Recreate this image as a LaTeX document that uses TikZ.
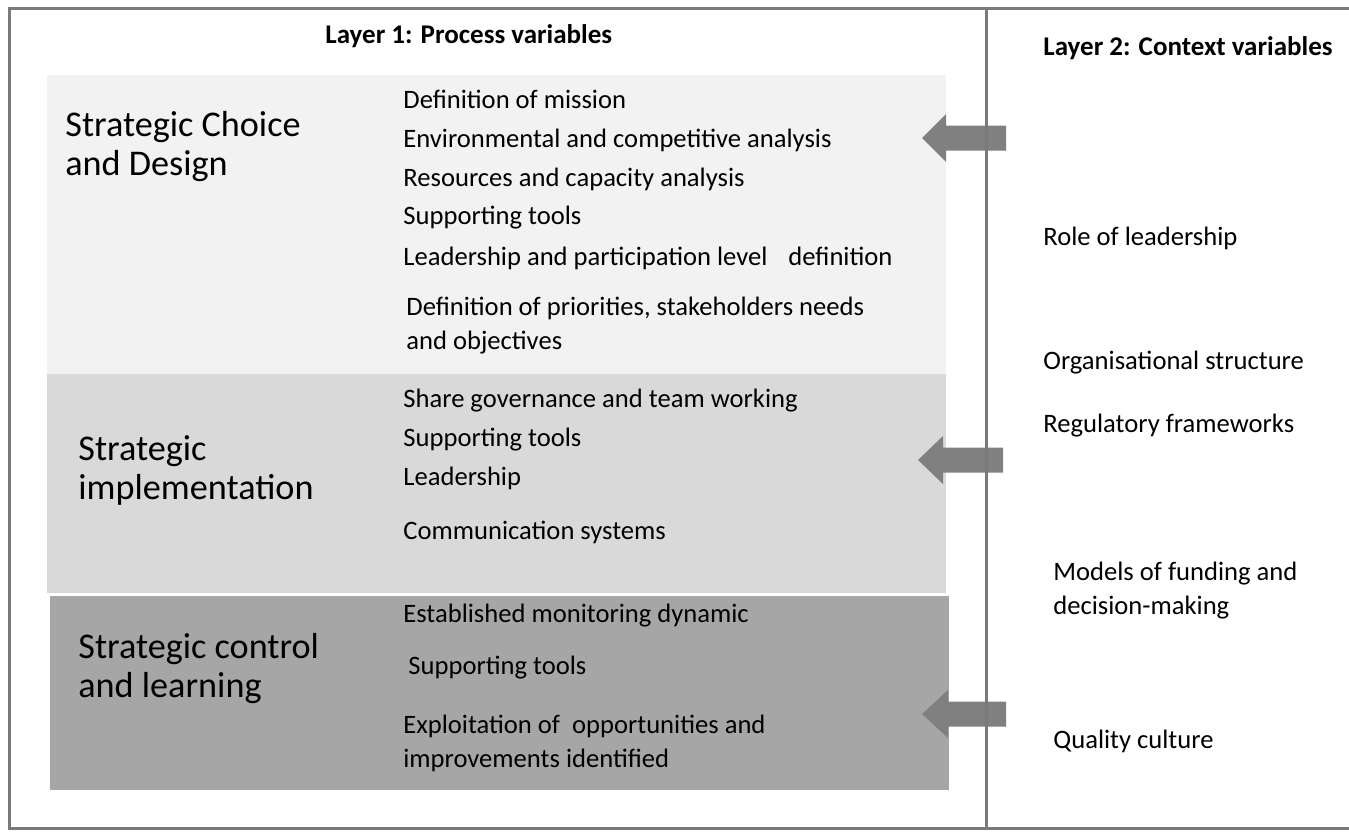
\documentclass[tikz,border=0pt]{standalone}
\usepackage{fontspec}
\setmainfont{Carlito}
\definecolor{framegray}{HTML}{7A7A7A}
\definecolor{arrowgray}{HTML}{808080}
\definecolor{bandone}{HTML}{F2F2F2}
\definecolor{bandtwo}{HTML}{D9D9D9}
\definecolor{bandthree}{HTML}{A6A6A6}
\begin{document}
\begin{tikzpicture}[x=0.5pt,y=-0.5pt,
  item/.style={anchor=base west, inner sep=0pt, align=left,
    font=\fontsize{13.3pt}{17pt}\selectfont},
  stage/.style={anchor=base west, inner sep=0pt, align=left,
    font=\fontsize{18.1pt}{19.5pt}\selectfont},
  header/.style={anchor=base west, inner sep=0pt,
    font=\fontsize{13.5pt}{17pt}\selectfont\bfseries},
  blockarrow/.style={fill=arrowgray, draw=none},
  rule/.style={draw=framegray, line width=1.5pt}]
\useasboundingbox (0,0) rectangle (1349,831);
\fill[white] (0,0) rectangle (1349,831);

% the three process stages
\fill[bandone]   (47,75)  rectangle (946,374);
\fill[bandtwo]   (47,374) rectangle (946,593);
\fill[bandthree] (50,596) rectangle (949,790);

% headers
\node[header] (l1) at (325,43) {Layer 1: Process variables};
\node[header] (l2) at (1043,55) {Layer 2: Context variables};

% stage titles (multi-line nodes sit on the baseline of their last line)
\node[stage] (s1) at (65,175) {Strategic Choice\\and Design};
\node[stage] (s2) at (78,499) {Strategic\\implementation};
\node[stage] (s3) at (78,697) {Strategic control\\and learning};

% strategic choice and design
\node[item] (a1) at (403,108) {Definition of mission};
\node[item] (a2) at (403,147) {Environmental and competitive analysis};
\node[item] (a3) at (403,186) {Resources and capacity analysis};
\node[item] (a4) at (403,224) {Supporting tools};
\node[item] (a5) at (403,265) {Leadership and participation level\hspace{10.5pt}definition};
\node[item] (a6) at (406,349) {Definition of priorities, stakeholders needs\\and objectives};

% strategic implementation
\node[item] (b1) at (403,407) {Share governance and team working};
\node[item] (b2) at (403,446) {Supporting tools};
\node[item] (b3) at (403,485) {Leadership};
\node[item] (b4) at (403,539) {Communication systems};

% strategic control and learning
\node[item] (c1) at (403,622) {Established monitoring dynamic};
\node[item] (c2) at (408,674) {Supporting tools};
\node[item] (c3) at (403,767) {Exploitation of\ \ opportunities and\\improvements identified};

% context variables
\node[item] (r1) at (1043,245) {Role of leadership};
\node[item] (r2) at (1043,369) {Organisational structure};
\node[item] (r3) at (1043,432) {Regulatory frameworks};
\node[item] (r4) at (1053,614) {Models of funding and\\decision-making};
\node[item] (r5) at (1053,748) {Quality culture};

% block arrows from the context layer into each stage
\fill[blockarrow] (1006,125.5) -- (946,125.5) -- (946,114) -- (922,138)
  -- (946,162) -- (946,150.5) -- (1006,150.5) -- cycle;
\fill[blockarrow] (1003,447.5) -- (943,447.5) -- (943,436) -- (918,460)
  -- (943,484) -- (943,472.5) -- (1003,472.5) -- cycle;
\fill[blockarrow] (1006,701.5) -- (948,701.5) -- (948,690) -- (922,714)
  -- (948,738) -- (948,726.5) -- (1006,726.5) -- cycle;

% frame and layer divider
\draw[rule] (1349,8.5) -- (9,8.5) -- (9,828) -- (1349,828);
\draw[rule] (986,8.5) -- (986,828);
\end{tikzpicture}
\end{document}
